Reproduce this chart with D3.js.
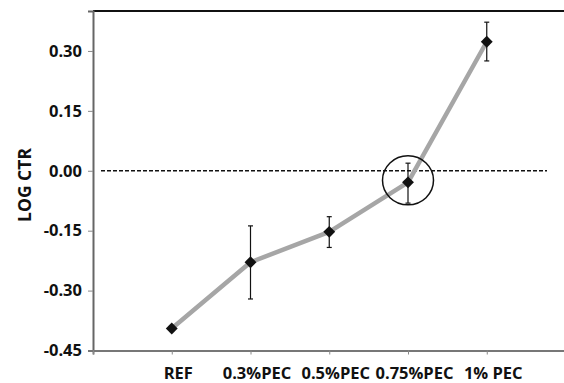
<!DOCTYPE html>
<html><head><meta charset="utf-8">
<script src="https://cdn.jsdelivr.net/npm/d3@7"></script>
<style>body{margin:0;background:#fff}svg{display:block}</style>
</head><body>
<script>
const categories = ["REF", "0.3%PEC", "0.5%PEC", "0.75%PEC", "1% PEC"];
const values = [-0.395, -0.229, -0.153, -0.029, 0.323];
const errUpper = [null, -0.138, -0.115, 0.019, 0.372];
const errLower = [null, -0.321, -0.192, -0.081, 0.275];
const yTicks = [-0.45, -0.30, -0.15, 0.00, 0.15, 0.30];
const highlighted = "0.75%PEC";

(function () {
const W = 564, H = 383;
const svg = d3.select("body").append("svg").attr("width", W).attr("height", H);
const mL = 93, mR = 565.5, mT = 11, mB = 350.5;

const x = d3.scaleLinear().domain([0, categories.length + 1]).range([mL, mR]);
const y = d3.scaleLinear().domain([-0.45, 0.40]).range([mB, mT]);
const font = "'Open Sans', 'DejaVu Sans', sans-serif";

// top border
svg.append("line").attr("x1", mL).attr("x2", W).attr("y1", mT).attr("y2", mT)
  .attr("stroke", "#111").attr("stroke-width", 2);

// y axis
const yAxis = d3.axisLeft(y).tickValues(yTicks).tickSize(5).tickPadding(6)
  .tickFormat(d => d.toFixed(2));
const gy = svg.append("g").attr("transform", `translate(${mL},0)`).call(yAxis);
gy.select(".domain").attr("stroke", "#666").attr("stroke-width", 2);
gy.selectAll(".tick line").attr("stroke", "#888");
gy.selectAll(".tick text").attr("font-family", font).attr("font-weight", "bold")
  .attr("font-size", 16.5).attr("fill", "#111");

// x axis
const xAxis = d3.axisBottom(x).tickValues(d3.range(0, categories.length + 1))
  .tickSize(4).tickPadding(13).tickFormat(i => i >= 1 && i <= categories.length ? categories[i - 1] : "");
const gx = svg.append("g").attr("transform", `translate(0,${mB})`).call(xAxis);
gx.select(".domain").attr("stroke", "#777").attr("stroke-width", 2);
gx.selectAll(".tick line").attr("stroke", "#888");
gx.selectAll(".tick text").attr("font-family", font).attr("font-weight", "bold")
  .attr("font-size", 16.5).attr("fill", "#111").attr("dx", 6);

// y title
svg.append("text").attr("transform", `translate(31,185) rotate(-90)`)
  .attr("text-anchor", "middle").attr("font-family", font).attr("font-weight", "bold")
  .attr("font-size", 17.5).attr("fill", "#111").text("LOG CTR");

// zero dashed line
svg.append("line").attr("x1", 101).attr("x2", 547).attr("y1", y(0)).attr("y2", y(0))
  .attr("stroke", "#111").attr("stroke-width", 1.5).attr("stroke-dasharray", "4,2");

// line
const line = d3.line().x((d, i) => x(i + 1)).y(d => y(d));
svg.append("path").datum(values).attr("d", line).attr("fill", "none")
  .attr("stroke", "#a6a6a6").attr("stroke-width", 4.5).attr("stroke-linejoin", "round");

// error bars
values.forEach((v, i) => {
  if (errUpper[i] == null) return;
  const cx = x(i + 1);
  const g = svg.append("g").attr("stroke", "#111").attr("stroke-width", 1.2);
  g.append("line").attr("x1", cx).attr("x2", cx).attr("y1", y(errUpper[i])).attr("y2", y(errLower[i]));
  [errUpper[i], errLower[i]].forEach(e =>
    g.append("line").attr("x1", cx - 2.5).attr("x2", cx + 2.5).attr("y1", y(e)).attr("y2", y(e)));
});

// markers
const sym = d3.symbol().type(d3.symbolDiamond2).size(90);
svg.selectAll(".pt").data(values).enter().append("path")
  .attr("transform", (d, i) => `translate(${x(i + 1)},${y(d)})`)
  .attr("d", sym).attr("fill", "#111");

// highlight circle
const hi = categories.indexOf(highlighted);
svg.append("ellipse").attr("cx", x(hi + 1)).attr("cy", y(values[hi]) - 2)
  .attr("rx", 25.5).attr("ry", 24.5).attr("fill", "none").attr("stroke", "#111").attr("stroke-width", 1.5);
})();
</script>
</body></html>
